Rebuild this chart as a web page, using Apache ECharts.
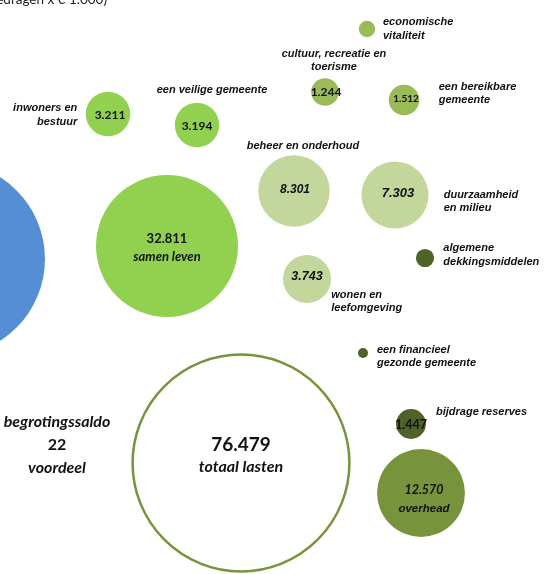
<!DOCTYPE html>
<html><head><meta charset="utf-8">
<script src="https://cdn.jsdelivr.net/npm/echarts@6/dist/echarts.min.js"></script>
<style>html,body{margin:0;padding:0;background:#fff}#c{width:544px;height:574px}</style>
</head><body><div id="c"></div>
<script>
// ---- data (bedragen x € 1.000) ----
const names = [
  'economische\nvitaliteit',
  'cultuur, recreatie en\ntoerisme',
  'een bereikbare\ngemeente',
  'inwoners en\nbestuur',
  'een veilige gemeente',
  'beheer en onderhoud',
  'duurzaamheid\nen milieu',
  'samen leven',
  'algemene\ndekkingsmiddelen',
  'wonen en\nleefomgeving',
  'een financieel\ngezonde gemeente',
  'bijdrage reserves',
  'overhead',
  'totaal lasten',
  'baten'
];
const values = [440, 1244, 1512, 3211, 3194, 8301, 7303, 32811, 540, 3743, 163, 1447, 12570, 76479, 61200];
const saldoTitle = 'begrotingssaldo';
const saldoValue = 22;
const saldoNote = 'voordeel';
const unitNote = '(bedragen x € 1.000)';

// ---- layout & styles (not data) ----
const C = {bright:'#92D050', olive:'#9BBB59', light:'#C3D69B', mid:'#77933C', dark:'#4F6228', blue:'#558ED5'};
const layout = [
  {cx:367, cy:29,  color:C.olive,  nm:{dx:16, dy:0, align:'left'}},
  {cx:325, cy:92,  color:C.olive,  nm:{dx:9, dy:-31.5, align:'center'}, inner:{f:'C', s:12, dx:1, dy:0}},
  {cx:404, cy:100, color:C.olive,  nm:{dx:34.7, dy:-6.3, align:'left'}, inner:{f:'C', s:10, dx:2, dy:-1}},
  {cx:108, cy:114, color:C.bright, nm:{dx:-30.7, dy:1, align:'right'}, inner:{f:'C', s:12, dx:2, dy:1}},
  {cx:197, cy:125, color:C.bright, nm:{dx:15, dy:-35, align:'center'}, inner:{f:'C', s:12, dx:0, dy:1}},
  {cx:294, cy:191, color:C.light,  nm:{dx:9, dy:-45, align:'center'}, inner:{f:'A', s:12, dx:1, dy:-1}},
  {cx:395, cy:195, color:C.light,  nm:{dx:48.7, dy:6.7, align:'left'}, inner:{f:'A', s:13, dx:3, dy:-2}},
  {cx:167, cy:246, color:C.bright, inner:{f:'C', s:13, dx:0, dy:2, sub:{f:'C', s:13}, lh:18}},
  {cx:425, cy:258, color:C.dark,   nm:{dx:18.3, dy:-3, align:'left'}},
  {cx:307, cy:279, color:C.light,  nm:{dx:24.3, dy:22.7, align:'left'}, inner:{f:'A', s:12.5, dx:0, dy:-2}},
  {cx:363, cy:353, color:C.dark,   nm:{dx:14, dy:3.3, align:'left'}},
  {cx:411, cy:424, color:C.dark,   nm:{dx:25, dy:-11.7, align:'left'}, inner:{f:'C', s:12.5, dx:0, dy:1}},
  {cx:421, cy:493, color:C.mid,    inner:{f:'CI', s:12.5, dx:3, dy:6.5, sub:{f:'A', s:11.5}, lh:19}},
  {cx:241, cy:463, color:'#ffffff', border:C.mid, inner:{f:'C', s:19, dx:0, dy:-7, sub:{f:'C', s:16}, lh:22}},
  {cx:-52, cy:259, color:C.blue}
];
const saldoPos = [57, 445];
const K = 0.784; // px diameter per sqrt(value): bubble area proportional to amount

const fmt = v => String(v).replace(/\B(?=(\d{3})+(?!\d))/g, '.');
const fontOf = (f, s, italicSub) => {
  if (f === 'A') return {fontFamily:'Liberation Sans', fontWeight:'bold', fontStyle:'italic', fontSize:s, color:'#111'};
  if (f === 'CI') return {fontFamily:'Lato', fontWeight:'bold', fontStyle:'italic', fontSize:s, color:'#111'};
  return {fontFamily:'Lato', fontWeight:'bold', fontStyle: italicSub ? 'italic' : 'normal', fontSize:s, color:'#111'};
};

const bubbleData = values.map((v, i) => {
  const L = layout[i];
  const item = {
    name: names[i],
    value: [L.cx, L.cy, v],
    itemStyle: L.border ? {color:L.color, borderColor:L.border, borderWidth:2.5, opacity:1} : {color:L.color, opacity:1}
  };
  if (L.inner) {
    const rich = {n: Object.assign(fontOf(L.inner.f, L.inner.s, false), {lineHeight: L.inner.lh || L.inner.s + 2})};
    let text = '{n|' + fmt(v) + '}';
    if (L.inner.sub) {
      rich.t = Object.assign(fontOf(L.inner.sub.f, L.inner.sub.s, true), {fontStyle:'italic', lineHeight: L.inner.lh});
      text += '\n{t|' + names[i] + '}';
    }
    item.label = {show:true, position:'inside', formatter:text, rich, offset:[L.inner.dx, L.inner.dy]};
  } else {
    item.label = {show:false};
  }
  return item;
});

const nameFont = {fontFamily:'Liberation Sans', fontWeight:'bold', fontStyle:'italic', fontSize:11, lineHeight:13.5, color:'#111'};
const nameData = [];
values.forEach((v, i) => {
  const L = layout[i];
  if (!L.nm) return;
  nameData.push({
    name: names[i],
    value: [L.cx, L.cy, v],
    label: Object.assign({show:true, position:'inside', formatter: names[i], align:L.nm.align, verticalAlign:'middle', offset:[L.nm.dx, L.nm.dy]}, nameFont)
  });
});
nameData.push({
  name: saldoTitle,
  value: [saldoPos[0], saldoPos[1], saldoValue],
  label: {
    show:true, position:'inside', align:'center', verticalAlign:'middle',
    formatter: '{a|' + saldoTitle + '}\n{b|' + fmt(saldoValue) + '}\n{a|' + saldoNote + '}',
    rich: {
      a: {fontFamily:'Lato', fontWeight:'bold', fontStyle:'italic', fontSize:16, lineHeight:23, color:'#111'},
      b: {fontFamily:'Lato', fontWeight:'bold', fontSize:16, lineHeight:23, color:'#111'}
    }
  }
});

const chart = echarts.init(document.getElementById('c'), null, {renderer:'canvas'});
chart.setOption({
  animation:false,
  backgroundColor:'#ffffff',
  grid:{left:0, right:0, top:0, bottom:0},
  xAxis:{type:'value', min:0, max:544, show:false},
  yAxis:{type:'value', min:0, max:574, inverse:true, show:false},
  graphic:[{
    type:'text', x:107, y:7, silent:true,
    style:{text:unitNote, align:'right', verticalAlign:'bottom', font:'13.5px Lato', fill:'#222'}
  }],
  series:[
    {type:'scatter', clip:false, silent:true, data:bubbleData,
     itemStyle:{opacity:1},
     symbolSize: val => K * Math.sqrt(val[2])},
    {type:'scatter', clip:false, silent:true, data:nameData, symbolSize:1,
     itemStyle:{color:'rgba(0,0,0,0)', opacity:1}}
  ]
});
</script></body></html>
